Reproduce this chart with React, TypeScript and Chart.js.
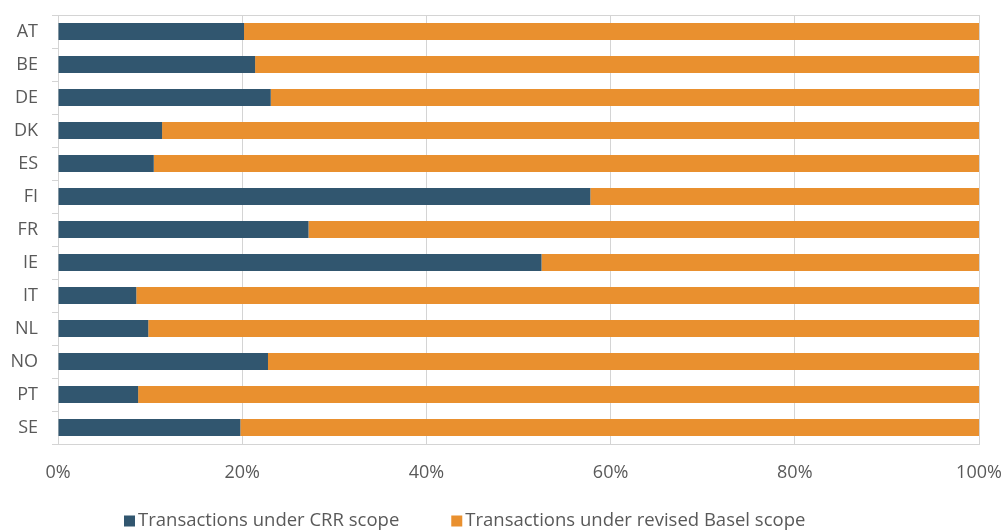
import React, { useEffect, useRef } from "react";
import { Chart, registerables } from "chart.js";

Chart.register(...registerables);

// Countries on the category axis
const countries = ["AT", "BE", "DE", "DK", "ES", "FI", "FR", "IE", "IT", "NL", "NO", "PT", "SE"];

// Share of transactions (%) under each scope
const crrScope = [20.2, 21.4, 23.1, 11.3, 10.4, 57.8, 27.2, 52.5, 8.5, 9.8, 22.8, 8.7, 19.8];
const revisedBaselScope = [79.8, 78.6, 76.9, 88.7, 89.6, 42.2, 72.8, 47.5, 91.5, 90.2, 77.2, 91.3, 80.2];

// Percentage ticks on the value axis
const percentTicks = [0, 20, 40, 60, 80, 100];

const seriesNames = ["Transactions under CRR scope", "Transactions under revised Basel scope"];
const seriesColors = ["#31566F", "#E9902F"];

const FONT_FAMILY = "'Open Sans', 'Liberation Sans', sans-serif";
const FONT_SIZE = 18;
const TEXT_COLOR = "#595959";
const GRID_COLOR = "#D4D4D4";

// Frame around the plotting area
const framePlugin = {
  id: "plotFrame",
  beforeDatasetsDraw(chart: any) {
    const { ctx, chartArea } = chart;
    ctx.save();
    ctx.strokeStyle = GRID_COLOR;
    ctx.lineWidth = 1;
    ctx.strokeRect(
      Math.round(chartArea.left) + 0.5,
      Math.round(chartArea.top) + 0.5,
      Math.round(chartArea.right - chartArea.left),
      Math.round(chartArea.bottom - chartArea.top)
    );
    ctx.restore();
  },
};

// Legend row drawn underneath the axis
const bottomLegendPlugin = {
  id: "bottomLegend",
  afterDraw(chart: any) {
    const { ctx } = chart;
    const box = 11;
    const textGap = 3;
    const itemGap = 52;
    const y = 521;
    ctx.save();
    ctx.font = `18.5px ${FONT_FAMILY}`;
    ctx.textBaseline = "middle";
    ctx.textAlign = "left";
    let x = 124;
    chart.data.datasets.forEach((ds: any) => {
      ctx.fillStyle = ds.backgroundColor;
      ctx.fillRect(x, y - box / 2, box, box);
      x += box + textGap;
      ctx.fillStyle = TEXT_COLOR;
      ctx.fillText(ds.label, x, y);
      x += ctx.measureText(ds.label).width + itemGap;
    });
    ctx.restore();
  },
};

export default function App() {
  const canvasRef = useRef<HTMLCanvasElement | null>(null);

  useEffect(() => {
    if (!canvasRef.current) return;
    const chart = new Chart(canvasRef.current, {
      type: "bar",
      data: {
        labels: countries,
        datasets: [
          {
            label: seriesNames[0],
            data: crrScope,
            backgroundColor: seriesColors[0],
            categoryPercentage: 1,
            barPercentage: 0.52,
          },
          {
            label: seriesNames[1],
            data: revisedBaselScope,
            backgroundColor: seriesColors[1],
            categoryPercentage: 1,
            barPercentage: 0.52,
          },
        ],
      },
      options: {
        indexAxis: "y",
        responsive: false,
        animation: false,
        layout: { padding: { left: 8, right: 25, top: 15, bottom: 40 } },
        plugins: {
          legend: { display: false },
          tooltip: { enabled: false },
        },
        scales: {
          x: {
            stacked: true,
            min: 0,
            max: 100,
            afterBuildTicks: (scale: any) => {
              scale.ticks = percentTicks.map((v) => ({ value: v }));
            },
            afterFit: (scale: any) => {
              scale.height = 48;
              scale.paddingLeft = 0;
              scale.paddingRight = 0;
            },
            ticks: {
              callback: (v: any) => `${v}%`,
              color: TEXT_COLOR,
              font: { family: FONT_FAMILY, size: FONT_SIZE },
              padding: 18,
              maxRotation: 0,
            },
            grid: {
              color: GRID_COLOR,
              lineWidth: 1,
              drawTicks: false,
            },
            border: { display: false },
          },
          y: {
            stacked: true,
            afterFit: (scale: any) => {
              scale.width = 50;
              scale.paddingTop = 0;
              scale.paddingBottom = 0;
            },
            ticks: {
              color: TEXT_COLOR,
              font: { family: FONT_FAMILY, size: FONT_SIZE },
              padding: 14,
            },
            grid: {
              offset: true,
              drawOnChartArea: false,
              drawTicks: true,
              tickLength: 6,
              color: GRID_COLOR,
            },
            border: { display: false },
          },
        },
      },
      plugins: [framePlugin, bottomLegendPlugin],
    });
    return () => chart.destroy();
  }, []);

  return (
    <div style={{ position: "fixed", left: 0, top: 0, width: 1004, height: 532, background: "#fff" }}>
      <canvas ref={canvasRef} width={1004} height={532} />
    </div>
  );
}
